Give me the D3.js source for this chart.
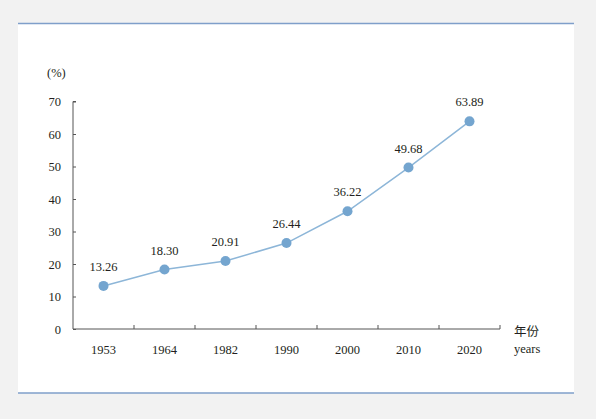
<!DOCTYPE html>
<html>
<head>
<meta charset="utf-8">
<script src="https://cdn.jsdelivr.net/npm/d3@7"></script>
<style>
  html, body { margin: 0; padding: 0; background: #f2f2f2; }
  svg { display: block; }
  text { font-family: "Liberation Serif", "DejaVu Serif", serif; fill: #231f20; }
</style>
</head>
<body>
<svg id="chart"></svg>
<script>
// chart data
const years = ["1953", "1964", "1982", "1990", "2000", "2010", "2020"];
const rates = [13.26, 18.30, 20.91, 26.44, 36.22, 49.68, 63.89];
const yTicks = [0, 10, 20, 30, 40, 50, 60, 70];

const svgWidth = 596;
const svgHeight = 419;
const margin = { top: 101.5, right: 96, bottom: 90, left: 73 };
const width = svgWidth - margin.left - margin.right;
const height = svgHeight - margin.top - margin.bottom;

const svg = d3.select("#chart")
  .attr("width", svgWidth)
  .attr("height", svgHeight);

// white panel with blue rules
svg.append("rect")
  .attr("x", 18).attr("y", 23)
  .attr("width", 556).attr("height", 370)
  .attr("fill", "#ffffff");
svg.append("line")
  .attr("x1", 18).attr("x2", 574).attr("y1", 23.5).attr("y2", 23.5)
  .attr("stroke", "#7f9fca").attr("stroke-width", 1.5);
svg.append("line")
  .attr("x1", 18).attr("x2", 574).attr("y1", 393).attr("y2", 393)
  .attr("stroke", "#7f9fca").attr("stroke-width", 1.5);

const x = d3.scaleBand()
  .domain(years)
  .range([margin.left, margin.left + width]);

const y = d3.scaleLinear()
  .domain([0, 70])
  .range([margin.top + height, margin.top]);

// x axis: ticks at band boundaries, pointing up
const gx = svg.append("g");
gx.append("line")
  .attr("x1", margin.left).attr("x2", margin.left + width)
  .attr("y1", y(0)).attr("y2", y(0))
  .attr("stroke", "#555").attr("stroke-width", 1);
years.forEach((d) => {
  const bx = x(d) + x.bandwidth();
  gx.append("line")
    .attr("x1", bx).attr("x2", bx)
    .attr("y1", y(0)).attr("y2", y(0) - 4)
    .attr("stroke", "#555");
  gx.append("text")
    .attr("x", x(d) + x.bandwidth() / 2)
    .attr("y", y(0) + 25)
    .attr("text-anchor", "middle")
    .attr("font-size", 12.5)
    .text(d);
});

// y axis with inward ticks
const gy = svg.append("g")
  .attr("transform", `translate(${margin.left}, 0)`)
  .call(d3.axisRight(y).tickValues(yTicks).tickSize(3).tickFormat(""));
gy.select(".domain").attr("stroke", "#555").attr("d", `M3,${y(70)}H0V${y(0)}`);
gy.selectAll(".tick line").attr("stroke", "#555");
yTicks.forEach((t) => {
  svg.append("text")
    .attr("x", margin.left - 12)
    .attr("y", y(t) + 4.5)
    .attr("text-anchor", "end")
    .attr("font-size", 12.5)
    .text(t);
});

// axis titles
svg.append("text")
  .attr("x", 47).attr("y", 77)
  .attr("font-size", 12.5)
  .text("(%)");
svg.append("text")
  .attr("x", 514).attr("y", 336)
  .attr("font-size", 12.5)
  .style("font-family", "'Noto Sans CJK SC', sans-serif")
  .text("年份");
svg.append("text")
  .attr("x", 514).attr("y", 353)
  .attr("font-size", 12.5)
  .text("years");

// line and markers
const line = d3.line()
  .x((d, i) => x(years[i]) + x.bandwidth() / 2)
  .y((d) => y(d));

svg.append("path")
  .datum(rates)
  .attr("d", line)
  .attr("fill", "none")
  .attr("stroke", "#8db6d8")
  .attr("stroke-width", 1.5);

svg.selectAll(".dot")
  .data(rates)
  .enter()
  .append("circle")
  .attr("class", "dot")
  .attr("cx", (d, i) => x(years[i]) + x.bandwidth() / 2)
  .attr("cy", (d) => y(d))
  .attr("r", 5)
  .attr("fill", "#74a5cf");

svg.selectAll(".val")
  .data(rates)
  .enter()
  .append("text")
  .attr("class", "val")
  .attr("x", (d, i) => x(years[i]) + x.bandwidth() / 2)
  .attr("y", (d) => y(d) - 15)
  .attr("text-anchor", "middle")
  .attr("font-size", 12.5)
  .text((d) => d.toFixed(2));
</script>
</body>
</html>
